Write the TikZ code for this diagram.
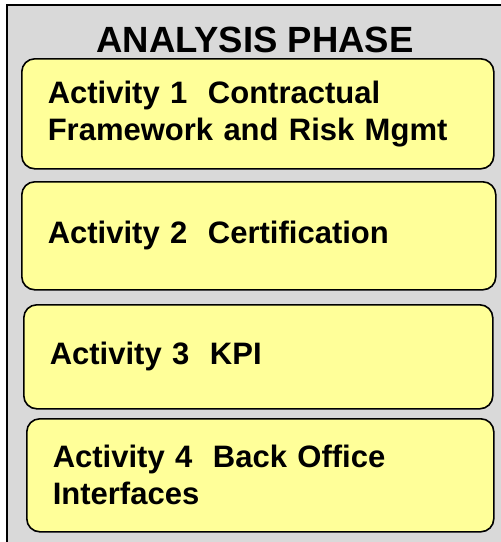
\documentclass[tikz,border=0pt]{standalone}
\usepackage{fontspec}
\setmainfont{Liberation Sans}
\definecolor{phasegray}{HTML}{D9D9D9}
\definecolor{actyellow}{HTML}{FFFF99}

\begin{document}
\begin{tikzpicture}[x=1pt, y=-1pt,
  actbox/.style={draw=black, line width=1.6pt, fill=actyellow, rounded corners=13pt,
    anchor=north west, align=left, inner xsep=26pt, inner ysep=0pt,
    font=\fontsize{31}{37}\selectfont\bfseries}]

\useasboundingbox (0,0) rectangle (501,542);
\clip (0,0) rectangle (501,542);
\draw[line width=1.6pt, fill=phasegray] (7,5) rectangle (520,560);

\node[anchor=base, font=\fontsize{36.5}{40}\selectfont\bfseries] (title) at (255,52) {ANALYSIS PHASE};

\node[actbox, text width=420pt, minimum height=110pt] (act1) at (21,58)
  {Activity 1\ \ Contractual\\Framework and Risk Mgmt};
\node[actbox, text width=422pt, minimum height=108pt] (act2) at (21,181)
  {Activity 2\ \ Certification};
\node[actbox, text width=417pt, minimum height=104pt] (act3) at (23,304)
  {Activity 3\ \ KPI};
\node[actbox, text width=415pt, minimum height=113pt] (act4) at (26,418)
  {Activity 4\ \ Back Office\\Interfaces};

\end{tikzpicture}
\end{document}
